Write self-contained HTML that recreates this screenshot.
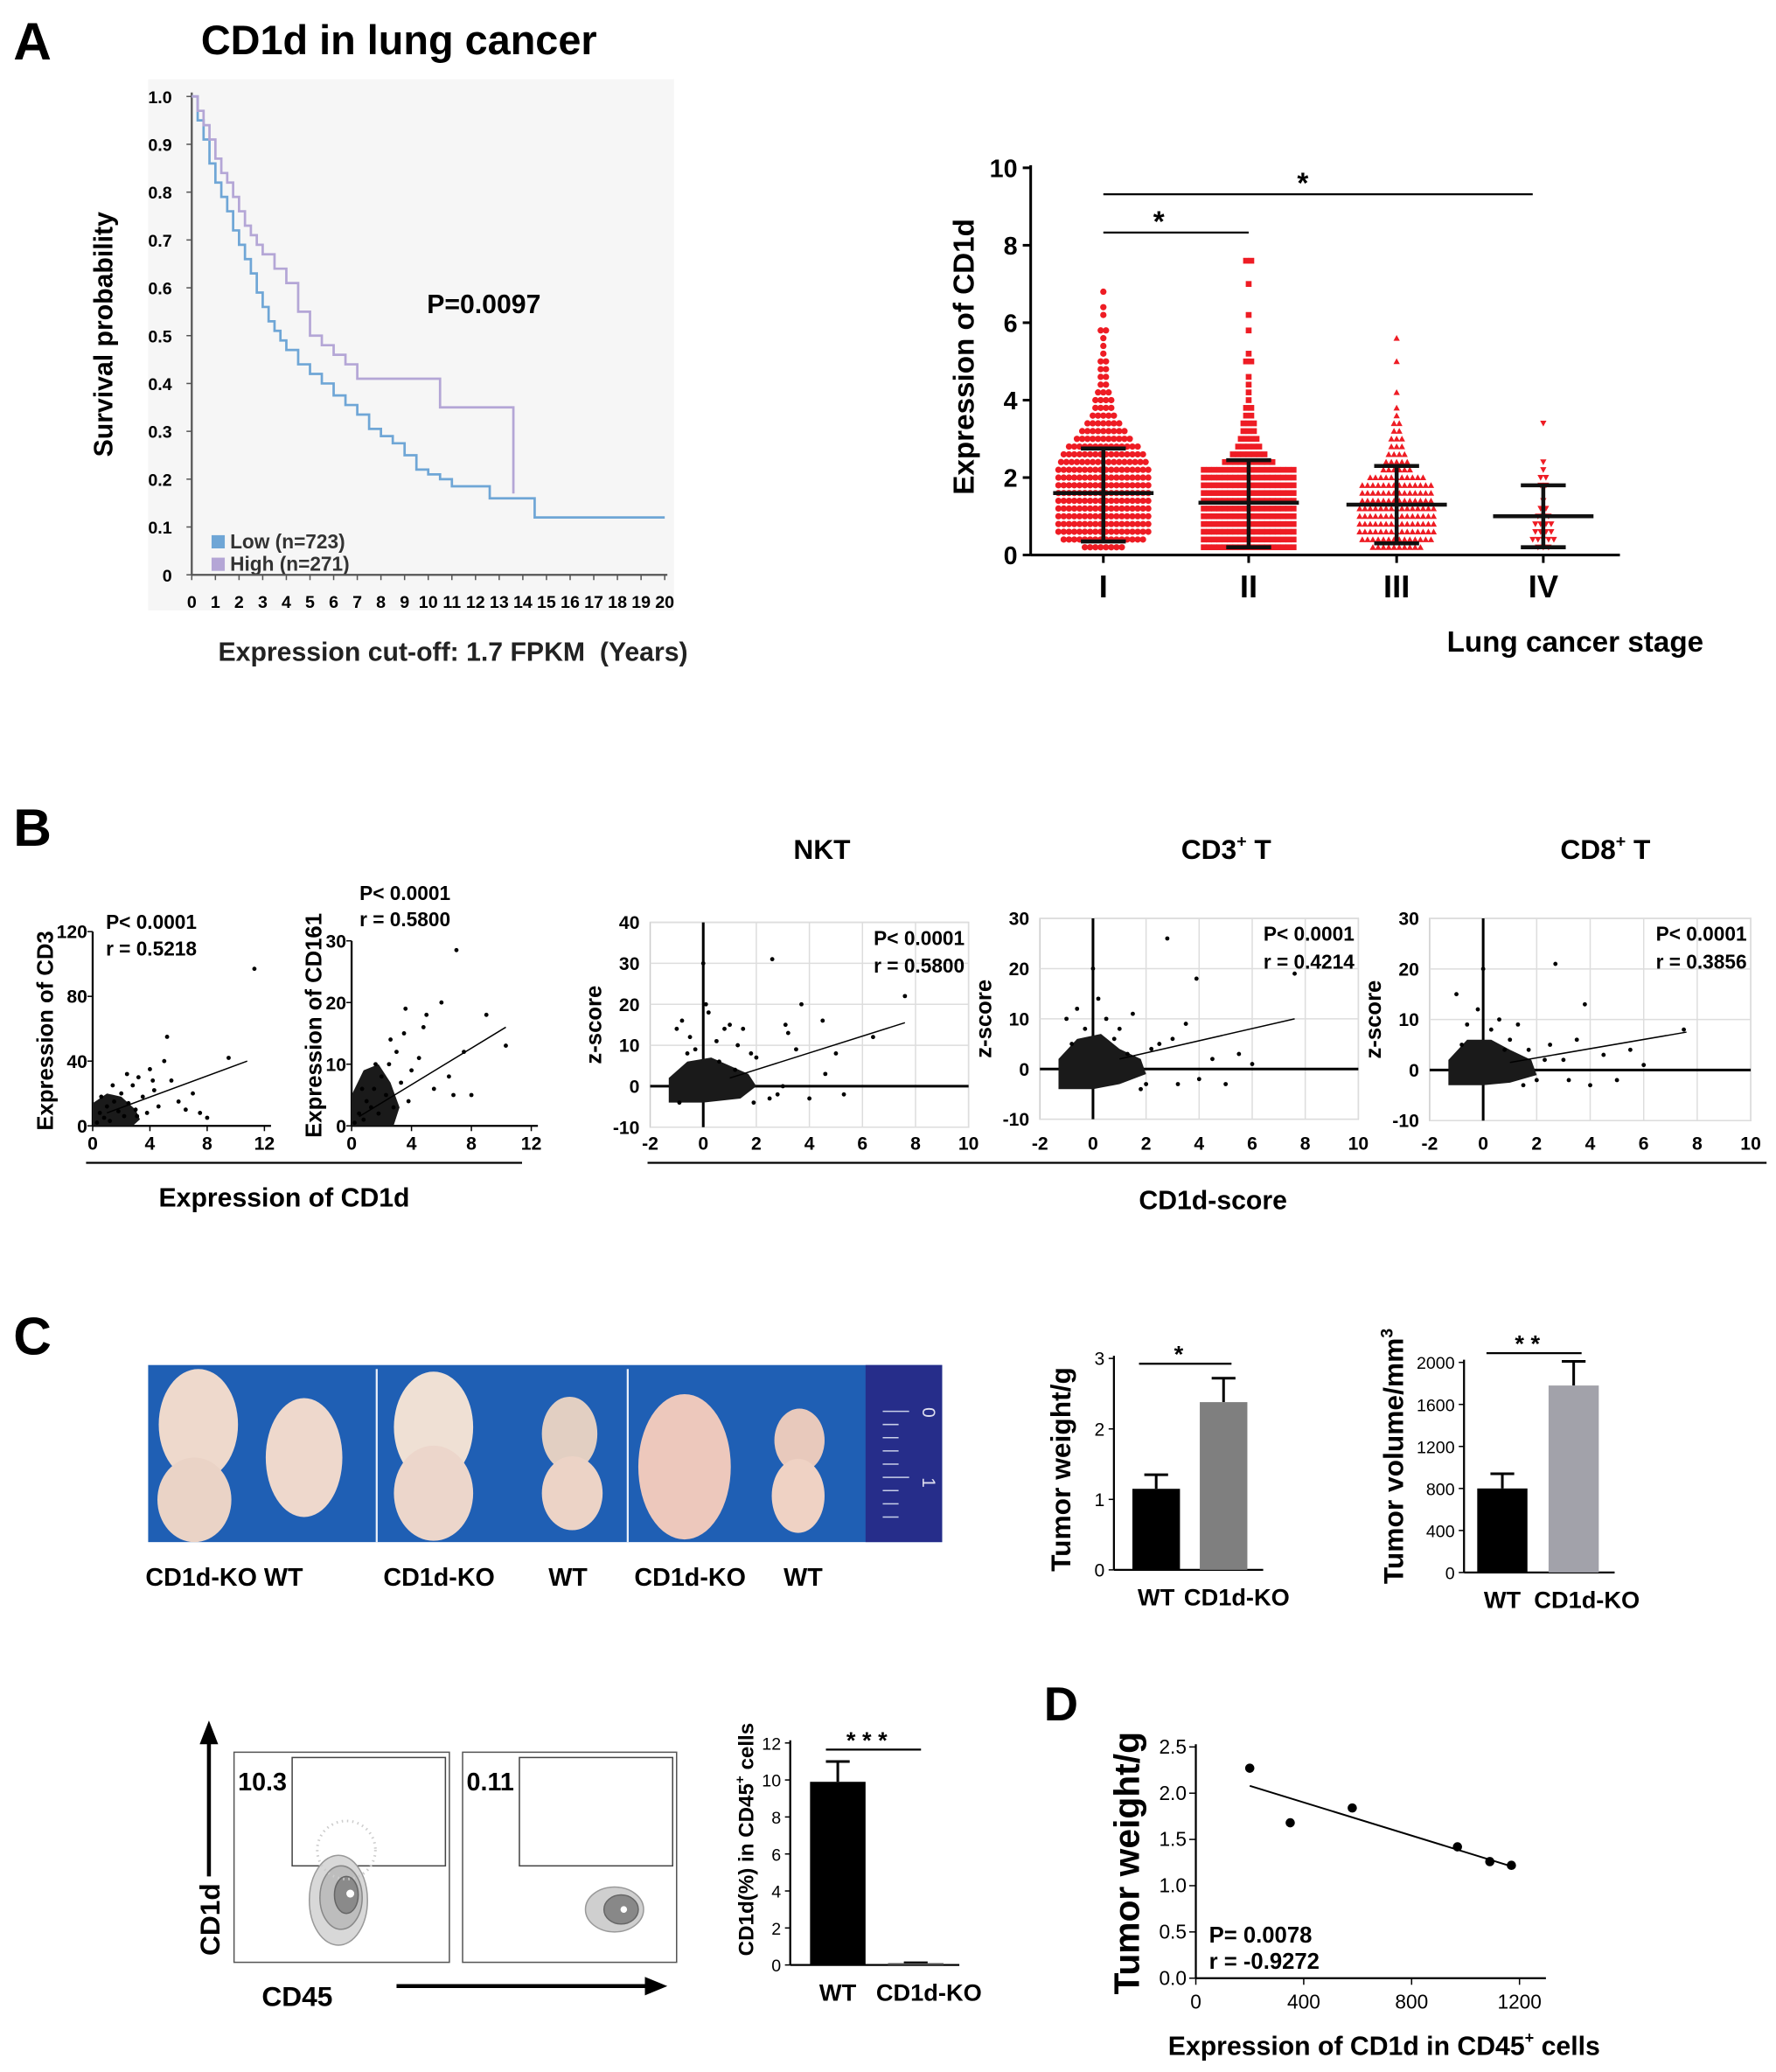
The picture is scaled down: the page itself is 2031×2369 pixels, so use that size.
<!DOCTYPE html>
<html><head><meta charset="utf-8"><style>
html,body{margin:0;padding:0;background:#fff;}
svg{display:block;font-family:"Liberation Sans",Arial,sans-serif;}
.b{font-weight:bold;}
</style></head><body>
<svg id="fig" xmlns="http://www.w3.org/2000/svg" width="2031" height="2369" viewBox="0 0 1344 1568">
<rect x="0" y="0" width="1344" height="1568" fill="#fff"/>
<g id="static" fill="#000">
<text x="10" y="45" font-size="40" class="b">A</text>
<text x="152" y="41" font-size="31" class="b">CD1d in lung cancer</text>
<rect x="112" y="60" width="398" height="402" fill="#f6f6f6"/>
<text transform="translate(85,253) rotate(-90)" text-anchor="middle" font-size="20" class="b">Survival probability</text>
<text x="323" y="237" font-size="20" class="b">P=0.0097</text>
<rect x="160" y="405" width="10" height="10" fill="#6fa6d6"/>
<text x="174" y="415" font-size="15" class="b" fill="#333">Low (n=723)</text>
<rect x="160" y="422" width="10" height="10" fill="#b4a6d6"/>
<text x="174" y="432" font-size="15" class="b" fill="#333">High (n=271)</text>
<text x="165" y="500" font-size="20" class="b" fill="#222">Expression cut-off: 1.7 FPKM &#160;(Years)</text>

<text transform="translate(737,270) rotate(-90)" text-anchor="middle" font-size="22" class="b">Expression of CD1d</text>
<text x="1095" y="493" font-size="22" class="b">Lung cancer stage</text>

<text x="10" y="640" font-size="40" class="b">B</text>
<text transform="translate(40,780) rotate(-90)" text-anchor="middle" font-size="17" class="b">Expression of CD3</text>
<text x="80" y="703" font-size="15" class="b">P&lt; 0.0001</text>
<text x="80" y="723" font-size="15" class="b">r = 0.5218</text>
<text transform="translate(243,776) rotate(-90)" text-anchor="middle" font-size="17" class="b">Expression of CD161</text>
<text x="272" y="681" font-size="15" class="b">P&lt; 0.0001</text>
<text x="272" y="701" font-size="15" class="b">r = 0.5800</text>
<line x1="65" y1="880" x2="395" y2="880" stroke="#000" stroke-width="1.5"/>
<text x="120" y="913" font-size="20" class="b">Expression of CD1d</text>
<text x="622" y="650" font-size="21" class="b" text-anchor="middle">NKT</text>
<text x="928" y="650" font-size="21" class="b" text-anchor="middle">CD3<tspan font-size="13" dy="-9">+</tspan><tspan dy="9"> T</tspan></text>
<text x="1215" y="650" font-size="21" class="b" text-anchor="middle">CD8<tspan font-size="13" dy="-9">+</tspan><tspan dy="9"> T</tspan></text>
<line x1="490" y1="880" x2="1337" y2="880" stroke="#000" stroke-width="1.5"/>
<text x="918" y="915" font-size="20" class="b" text-anchor="middle">CD1d-score</text>

<text x="10" y="1025" font-size="40" class="b">C</text>
<g>
<rect x="112" y="1033" width="601" height="134" fill="#1f5fb4"/>
<rect x="655" y="1033" width="58" height="134" fill="#262d8a"/>
<line x1="285" y1="1036" x2="285" y2="1167" stroke="#e8eef8" stroke-width="1.5"/>
<line x1="475" y1="1036" x2="475" y2="1167" stroke="#e8eef8" stroke-width="1.5"/>
<ellipse cx="150" cy="1078" rx="30" ry="42" fill="#eed9cc"/><ellipse cx="147" cy="1135" rx="28" ry="32" fill="#ead3c6"/>
<ellipse cx="230" cy="1103" rx="29" ry="45" fill="#eed8cc"/>
<ellipse cx="328" cy="1080" rx="30" ry="42" fill="#efe0d4"/><ellipse cx="328" cy="1130" rx="30" ry="36" fill="#ecd6cb"/>
<ellipse cx="431" cy="1085" rx="21" ry="28" fill="#e2cfc2"/><ellipse cx="433" cy="1130" rx="23" ry="28" fill="#ecd3c6"/>
<ellipse cx="518" cy="1110" rx="35" ry="55" fill="#edc8bc"/>
<ellipse cx="605" cy="1090" rx="19" ry="24" fill="#e8c9bc"/><ellipse cx="604" cy="1132" rx="20" ry="28" fill="#efd2c4"/>
<g stroke="#c8cfe8" stroke-width="1"><line x1="668" y1="1068" x2="688" y2="1068"/><line x1="668" y1="1078" x2="680" y2="1078"/><line x1="668" y1="1088" x2="680" y2="1088"/><line x1="668" y1="1098" x2="680" y2="1098"/><line x1="668" y1="1108" x2="680" y2="1108"/><line x1="668" y1="1118" x2="688" y2="1118"/><line x1="668" y1="1128" x2="680" y2="1128"/><line x1="668" y1="1138" x2="680" y2="1138"/><line x1="668" y1="1148" x2="680" y2="1148"/></g>
<text transform="translate(698,1065) rotate(90)" font-size="14" fill="#dde">0</text>
<text transform="translate(698,1118) rotate(90)" font-size="14" fill="#dde">1</text>
</g>
<g font-size="19" class="b">
<text x="110" y="1200">CD1d-KO WT</text>
<text x="290" y="1200">CD1d-KO</text>
<text x="415" y="1200">WT</text>
<text x="480" y="1200">CD1d-KO</text>
<text x="593" y="1200">WT</text>
</g>
<text transform="translate(810,1112) rotate(-90)" text-anchor="middle" font-size="21" class="b">Tumor weight/g</text>
<text transform="translate(1062,1102) rotate(-90)" text-anchor="middle" font-size="21" class="b">Tumor volume/mm<tspan font-size="13" dy="-8">3</tspan></text>

<g>
<rect x="177" y="1326" width="163" height="159" fill="none" stroke="#555" stroke-width="1"/>
<rect x="221" y="1330" width="116" height="82" fill="none" stroke="#444" stroke-width="1"/>
<ellipse cx="256" cy="1438" rx="22" ry="34" fill="#d8d8d8" stroke="#999"/>
<ellipse cx="258" cy="1436" rx="16" ry="24" fill="#bdbdbd" stroke="#888"/>
<ellipse cx="262" cy="1434" rx="9" ry="14" fill="#8a8a8a" stroke="#666"/>
<circle cx="265" cy="1433" r="3" fill="#fff"/>
<ellipse cx="262" cy="1400" rx="22" ry="22" fill="none" stroke="#ccc" stroke-dasharray="1 3" stroke-width="2"/>
<text x="180" y="1355" font-size="19" class="b">10.3</text>
</g>
<g>
<rect x="350" y="1326" width="162" height="159" fill="none" stroke="#555" stroke-width="1"/>
<rect x="393" y="1330" width="116" height="82" fill="none" stroke="#444" stroke-width="1"/>
<ellipse cx="465" cy="1445" rx="22" ry="17" fill="#cfcfcf" stroke="#999"/>
<ellipse cx="470" cy="1445" rx="13" ry="11" fill="#888" stroke="#666"/>
<circle cx="472" cy="1445" r="2.5" fill="#fff"/>
<text x="353" y="1355" font-size="19" class="b">0.11</text>
</g>
<line x1="158" y1="1420" x2="158" y2="1318" stroke="#000" stroke-width="3"/>
<polygon points="151,1320 165,1320 158,1302" fill="#000"/>
<text transform="translate(166,1480) rotate(-90)" font-size="21" class="b">CD1d</text>
<text x="198" y="1518" font-size="21" class="b">CD45</text>
<line x1="300" y1="1503" x2="490" y2="1503" stroke="#000" stroke-width="3"/>
<polygon points="488,1496 488,1510 505,1503" fill="#000"/>
<text transform="translate(570,1392) rotate(-90)" text-anchor="middle" font-size="16" class="b">CD1d(%) in CD45<tspan font-size="10" dy="-7">+</tspan><tspan dy="7"> cells</tspan></text>

<text x="790" y="1302" font-size="36" class="b">D</text>
<text transform="translate(862,1410) rotate(-90)" text-anchor="middle" font-size="27" class="b">Tumor weight/g</text>
<text x="915" y="1470" font-size="17" class="b">P= 0.0078</text>
<text x="915" y="1490" font-size="17" class="b">r = -0.9272</text>
<text x="884" y="1555" font-size="20" class="b">Expression of CD1d in CD45<tspan font-size="12" dy="-9">+</tspan><tspan dy="9"> cells</tspan></text>
</g>
<g id="dyn"></g>
</svg>
<script>
// ---- KM data (years, survival)
const kmLowT = [0,0.25,0.5,0.75,1,1.25,1.5,1.75,2,2.25,2.5,2.75,3,3.25,3.5,3.75,4,4.5,5,5.5,6,6.5,7,7.5,8,8.5,9,9.5,10,10.5,11,12.5,12.6,14.5,20];
const kmLowS = [1,0.95,0.91,0.86,0.82,0.79,0.76,0.72,0.69,0.66,0.63,0.59,0.56,0.53,0.51,0.49,0.47,0.44,0.42,0.40,0.375,0.355,0.335,0.305,0.29,0.275,0.25,0.22,0.21,0.2,0.185,0.185,0.16,0.12,0.12];
const kmHighT = [0,0.25,0.5,0.75,1,1.25,1.5,1.75,2,2.25,2.5,2.75,3,3.5,4,4.5,5,5.5,6,6.5,7,10.5,13.6];
const kmHighS = [1,0.97,0.94,0.91,0.87,0.84,0.82,0.79,0.76,0.73,0.71,0.69,0.67,0.64,0.61,0.55,0.5,0.48,0.46,0.44,0.41,0.35,0.17];
const kmYTicks = [0,0.1,0.2,0.3,0.4,0.5,0.6,0.7,0.8,0.9,1.0];
const kmXTicks = [0,1,2,3,4,5,6,7,8,9,10,11,12,13,14,15,16,17,18,19,20];
// ---- Stage data
const stageNames = ['I','II','III','IV'];
const stageMean = [1.6,1.35,1.3,1.0];
const stageLow = [0.35,0.2,0.3,0.2];
const stageHigh = [2.75,2.45,2.3,1.8];
const stageBinsI = [8,16,18,18,18,18,18,18,18,18,18,17,16,14,11,9,7,5,4,4,3,2,2,2,2,1,1,1,2,0,1,1,0,1,0,0];
const stageBinsII = [18,18,18,18,18,18,18,18,18,18,18,10,7,5,4,3,3,2,2,1,1,1,1,0,2,1,0,0,1,0,1,0,0,0,1,0,0,2];
const stageBinsIII = [10,14,15,15,15,15,14,14,14,11,6,5,4,3,3,2,2,1,1,0,1,0,0,0,1,0,0,1,0];
const stageBinsIV = [3,5,4,4,3,2,1,0,2,2,1,1,0,0,0,0,1];
// ---- B scatter data
const cd3X = [0.3,0.5,0.8,1,1.2,1.5,1.8,2,2.2,2.5,2.8,3,3.2,3.5,3.8,4,4.3,4.6,5,5.5,6,6.5,7,7.5,8,9.5,11.3,0.6,1.4,2.4,3.1,4.2,5.2];
const cd3Y = [2,8,5,12,3,15,9,20,6,14,25,10,30,18,8,35,22,12,40,28,15,10,20,8,5,42,97,18,25,32,6,28,55];
const cd161X = [0.2,0.5,0.8,1,1.3,1.5,1.8,2,2.3,2.5,2.8,3,3.3,3.5,3.8,4,4.5,5,5.5,6,6.5,7,7.5,8,9,10.3,0.7,1.6,2.6,3.6,6.8,4.8];
const cd161Y = [0.5,2,1,4,3,6,2,8,5,10,3,12,7,15,4,9,11,18,6,20,8,28.5,12,5,18,13,6,10,14,19,5,16];
const nktX = [-1,-0.8,-0.5,-0.3,0,0.2,0.5,0.8,1,1.3,1.5,1.8,2,2.5,2.6,3,3.1,3.5,3.7,4,4.5,4.6,5,5.3,6.4,7.6,-0.9,-0.6,0.1,0.6,1.2,1.9,2.8,3.2];
const nktY = [14,16,12,9,30,18,11,14,15,10,14,8,7,-3,31,0,15,9,20,-3,16,3,8,-2,12,22,-4,8,20,6,4,-4,-2,13];
const cd3tX = [-1,-0.6,-0.3,0,0.2,0.5,1,1.3,1.5,2,2.5,2.8,3,3.5,3.9,4,4.5,5,5.5,7.6,6,0.8,1.8,2.2,3.2,-0.8];
const cd3tY = [10,12,8,20,14,10,8,3,11,-3,5,26,6,9,18,-2,2,-3,3,19,1,6,-4,4,-3,5];
const cd8tX = [-1,-0.6,-0.2,0,0.3,0.6,1,1.3,1.7,2,2.5,2.7,3,3.5,3.8,4,4.5,5,5.5,6,7.5,0.8,1.5,2.3,-0.8,3.2];
const cd8tY = [15,9,12,20,8,10,6,9,4,-2,5,21,2,6,13,-3,3,-2,4,1,8,4,-3,2,5,-2];
// core density hulls [x,y] in data units
const cd3Core = [[0,0],[0,14],[1,20],[2,18],[3,10],[3.3,4],[2.8,0]];
const cd161Core = [[0,0],[0,5],[0.8,9],[1.8,10],[2.6,7],[3.2,3],[2.8,0]];
const nktCore = [[-1.3,-4],[-1.3,2],[-0.6,6],[0.3,7],[1,5],[1.7,3],[2,0],[1.4,-3],[0,-4]];
const cd3tCore = [[-1.3,-4],[-1.3,2],[-0.6,6],[0.3,7],[1,4],[1.8,2],[2,-1],[1,-3],[0,-4]];
const cd8tCore = [[-1.3,-3],[-1.3,2],[-0.6,6],[0.3,6],[1,4],[1.8,2],[2,-1],[1,-2.5],[0,-3]];
// ---- C bars
const barCats = ['WT','CD1d-KO'];
const weightVals = [1.15,2.38];
const weightErr = [0.2,0.34];
const weightTicks = [0,1,2,3];
const volumeVals = [800,1780];
const volumeErr = [140,230];
const volumeTicks = [0,400,800,1200,1600,2000];
const pctVals = [9.9,0.1];
const pctErr = [1.1,0.02];
const pctTicks = [0,2,4,6,8,10,12];
// ---- D
const dX = [200,350,580,970,1090,1170];
const dY = [2.27,1.68,1.84,1.42,1.26,1.22];
const dFitX = [200,1180];
const dFitY = [2.08,1.2];
const dXTicks = [0,400,800,1200];
const dYTicks = [0,0.5,1.0,1.5,2.0,2.5];

const NS='http://www.w3.org/2000/svg';
const dyn=document.getElementById('dyn');
function mk(tag,attrs,parent){const e=document.createElementNS(NS,tag);for(const k in attrs)e.setAttribute(k,attrs[k]);(parent||dyn).appendChild(e);return e;}
function lin(d0,d1,r0,r1){return v=>r0+(v-d0)*(r1-r0)/(d1-d0);}
function txt(x,y,s,size,anchor,bold,name){const t=mk('text',{x:x,y:y,'font-size':size,'text-anchor':anchor||'start','font-weight':bold?'bold':'normal'});t.textContent=s;


return t;}

// ===== KM
(function(){
const x=lin(0,20,145,503), y=lin(0,1,435,73);
mk('line',{x1:145,y1:435,x2:505,y2:435,stroke:'#555','stroke-width':1.5});
mk('line',{x1:145,y1:435,x2:145,y2:70,stroke:'#555','stroke-width':1.5});
kmYTicks.forEach(v=>{mk('line',{x1:141,y1:y(v),x2:145,y2:y(v),stroke:'#555'});txt(130,y(v)+5,v===0?'0':v.toFixed(1),13,'end',true,'km-y-tick');});
kmXTicks.forEach(v=>{mk('line',{x1:x(v),y1:435,x2:x(v),y2:439,stroke:'#555'});txt(x(v),460,String(v),13,'middle',true,'km-x-tick');});
function step(T,S,col,name){let d='M'+x(T[0])+','+y(S[0]);for(let i=1;i<T.length;i++){d+=' L'+x(T[i])+','+y(S[i-1])+' L'+x(T[i])+','+y(S[i]);}
const p=mk('path',{d:d,fill:'none',stroke:col,'stroke-width':1.8});


}
step(kmLowT,kmLowS,'#6fa6d6','km-curve-low');
step(kmHighT,kmHighS,'#b4a6d6','km-curve-high');
})();

// ===== Stage scatter
(function(){
const y=lin(0,10,420,127); const cx=[835,945,1057,1168];
mk('line',{x1:780,y1:420,x2:1226,y2:420,stroke:'#000','stroke-width':2});
mk('line',{x1:780,y1:420,x2:780,y2:125,stroke:'#000','stroke-width':2});
[0,2,4,6,8,10].forEach(v=>{mk('line',{x1:774,y1:y(v),x2:780,y2:y(v),stroke:'#000','stroke-width':2});txt(770,y(v)+7,String(v),19,'end',true,'stage-y-tick');});
stageNames.forEach((s,i)=>{mk('line',{x1:cx[i],y1:420,x2:cx[i],y2:426,stroke:'#000','stroke-width':2});txt(cx[i],452,s,24,'middle',true,'stage-x-tick');});
const bins=[stageBinsI,stageBinsII,stageBinsIII,stageBinsIV];
bins.forEach((b,g)=>{b.forEach((n,k)=>{const v=0.2+k*0.2;for(let j=0;j<n;j++){const off=(j-(n-1)/2)*4;const px=cx[g]+off,py=y(v);let m;
if(g===0)m=mk('circle',{cx:px,cy:py,r:2.4,fill:'#ee1c24'});
else if(g===1)m=mk('rect',{x:px-2.2,y:py-2.2,width:4.4,height:4.4,fill:'#ee1c24'});
else if(g===2)m=mk('polygon',{points:(px-2.4)+','+(py+2)+' '+(px+2.4)+','+(py+2)+' '+px+','+(py-2.4),fill:'#ee1c24'});
else m=mk('polygon',{points:(px-2.4)+','+(py-2)+' '+(px+2.4)+','+(py-2)+' '+px+','+(py+2.4),fill:'#ee1c24'});


}});});
stageNames.forEach((s,i)=>{
const c=cx[i];
mk('line',{x1:c-38,y1:y(stageMean[i]),x2:c+38,y2:y(stageMean[i]),stroke:'#111','stroke-width':3});
mk('line',{x1:c,y1:y(stageLow[i]),x2:c,y2:y(stageHigh[i]),stroke:'#111','stroke-width':3});
mk('line',{x1:c-17,y1:y(stageLow[i]),x2:c+17,y2:y(stageLow[i]),stroke:'#111','stroke-width':3});
const e=mk('line',{x1:c-17,y1:y(stageHigh[i]),x2:c+17,y2:y(stageHigh[i]),stroke:'#111','stroke-width':3});


});
mk('line',{x1:cx[0],y1:176,x2:cx[1],y2:176,stroke:'#000','stroke-width':1.5});
txt(877,175,'*',22,'middle',true,'sig-star-i-ii');
mk('line',{x1:cx[0],y1:147,x2:1160,y2:147,stroke:'#000','stroke-width':1.5});
txt(986,146,'*',22,'middle',true,'sig-star-i-iv');
})();

// ===== small scatters
function smallScatter(X,Y,core,ox,x1px,xmax,yTop,ymax,yticks,fit,name){
const x=lin(0,xmax,ox,x1px), y=lin(0,ymax,852,yTop);
mk('line',{x1:ox,y1:852,x2:x1px+5,y2:852,stroke:'#000','stroke-width':1.5});
mk('line',{x1:ox,y1:852,x2:ox,y2:yTop,stroke:'#000','stroke-width':1.5});
yticks.forEach(v=>{mk('line',{x1:ox-4,y1:y(v),x2:ox,y2:y(v),stroke:'#000'});txt(ox-4,y(v)+5,String(v),14,'end',true,name+'-y-tick');});
[0,4,8,12].forEach(v=>{mk('line',{x1:x(v),y1:852,x2:x(v),y2:856,stroke:'#000'});txt(x(v),870,String(v),14,'middle',true,name+'-x-tick');});
mk('polygon',{points:core.map(p=>x(p[0])+','+y(p[1])).join(' '),fill:'#1a1a1a'});
X.forEach((v,i)=>{const c=mk('circle',{cx:x(v),cy:y(Y[i]),r:1.6,fill:'#000'});


});
mk('line',{x1:x(fit[0]),y1:y(fit[1]),x2:x(fit[2]),y2:y(fit[3]),stroke:'#000','stroke-width':1});
}
smallScatter(cd3X,cd3Y,cd3Core,70,200,12,705,120,[0,40,80,120],[1,8,10.8,40],'cd3');
smallScatter(cd161X,cd161Y,cd161Core,266,402,12,712,30,[0,10,20,30],[0.5,1.5,10.3,16],'cd161');

// ===== z-score plots
function zPlot(X,Y,core,x0,x1,yT,yB,ymax,tickStep,fit,stat,name){
const x=lin(-2,10,x0,x1), y=lin(-10,ymax,yB,yT);
mk('rect',{x:x0,y:yT,width:x1-x0,height:yB-yT,fill:'none',stroke:'#ccc'});
for(let v=0;v<=10;v+=2){mk('line',{x1:x(v),y1:yT,x2:x(v),y2:yB,stroke:'#ddd'});}
for(let v=-10;v<=ymax;v+=tickStep){mk('line',{x1:x0,y1:y(v),x2:x1,y2:y(v),stroke:'#ddd'});txt(x0-8,y(v)+5,String(v),14,'end',true,name+'-y-tick');}
for(let v=-2;v<=10;v+=2){txt(x(v),870,String(v),14,'middle',true,name+'-x-tick');}
mk('line',{x1:x0,y1:y(0),x2:x1,y2:y(0),stroke:'#000','stroke-width':2});
mk('line',{x1:x(0),y1:yT,x2:x(0),y2:yB,stroke:'#000','stroke-width':2});
mk('polygon',{points:core.map(p=>x(p[0])+','+y(p[1])).join(' '),fill:'#1a1a1a'});
X.forEach((v,i)=>{const c=mk('circle',{cx:x(v),cy:y(Y[i]),r:1.6,fill:'#000'});


});
mk('line',{x1:x(fit[0]),y1:y(fit[1]),x2:x(fit[2]),y2:y(fit[3]),stroke:'#000','stroke-width':1});
const t=mk('text',{transform:'translate('+(x0-37)+','+((yT+yB)/2)+') rotate(-90)','text-anchor':'middle','font-size':17,'font-weight':'bold'});t.textContent='z-score';


txt(x1-3,yT+17,'P< 0.0001',15,'end',true,name+'-p-value');
txt(x1-3,yT+38,'r = '+stat,15,'end',true,name+'-r-value');
}
zPlot(nktX,nktY,nktCore,492,733,698,853,40,10,[1,2,7.6,15.5],'0.5800','nkt');
zPlot(cd3tX,cd3tY,cd3tCore,787,1028,695,847,30,10,[1,2,7.6,10],'0.4214','cd3t');
zPlot(cd8tX,cd8tY,cd8tCore,1082,1325,695,848,30,10,[1,1.5,7.6,7.5],'0.3856','cd8t');

// ===== bar charts
function barChart(vals,errs,ticks,ax,y0,yT,max,bx,bw,cols,sig,name,tfs){
const y=lin(0,max,y0,yT);
mk('line',{x1:ax,y1:y0,x2:bx[1]+bw+12,y2:y0,stroke:'#000','stroke-width':1.5});
mk('line',{x1:ax,y1:y0,x2:ax,y2:y(ticks[ticks.length-1])-2,stroke:'#000','stroke-width':1.5});
ticks.forEach(v=>{mk('line',{x1:ax-4,y1:y(v),x2:ax,y2:y(v),stroke:'#000'});txt(ax-7,y(v)+5,String(v),tfs,'end',false,name+'-y-tick');});
vals.forEach((v,i)=>{
mk('line',{x1:bx[i]+bw/2,y1:y(v),x2:bx[i]+bw/2,y2:y(v+errs[i]),stroke:'#000','stroke-width':2});
mk('line',{x1:bx[i]+bw/2-9,y1:y(v+errs[i]),x2:bx[i]+bw/2+9,y2:y(v+errs[i]),stroke:'#000','stroke-width':2});
const r=mk('rect',{x:bx[i],y:y(v),width:bw,height:y0-y(v),fill:cols[i]});


txt(bx[i]+bw/2+(i?10:0),y0+27,barCats[i],18,'middle',true,name+'-x-label');
});
mk('line',{x1:sig[0],y1:sig[2],x2:sig[1],y2:sig[2],stroke:'#000','stroke-width':1.5});
txt((sig[0]+sig[1])/2-5,sig[2]-1,sig[3],18,'middle',true,name+'-sig');
}
barChart(weightVals,weightErr,weightTicks,843,1188,1028,3,[857,908],36,['#000','#7f7f7f'],[862,932,1032,'*'],'weight',14);
barChart(volumeVals,volumeErr,volumeTicks,1108,1190,1031,2000,[1118,1172],38,['#000','#a2a2aa'],[1125,1197,1024,'* *'],'volume',13);
barChart(pctVals,pctErr,pctTicks,598,1487,1319,12,[613,672],42,['#000','#555'],[625,697,1324,'* * *'],'cd1d-pct',13);

// ===== D
(function(){
const x=lin(0,1200,905,1150), y=lin(0,2.5,1497,1322);
mk('line',{x1:905,y1:1497,x2:1170,y2:1497,stroke:'#000','stroke-width':1.5});
mk('line',{x1:905,y1:1497,x2:905,y2:1320,stroke:'#000','stroke-width':1.5});
dXTicks.forEach(v=>{mk('line',{x1:x(v),y1:1497,x2:x(v),y2:1502,stroke:'#000'});txt(x(v),1520,String(v),15,'middle',false,'d-x-tick');});
dYTicks.forEach(v=>{mk('line',{x1:900,y1:y(v),x2:905,y2:y(v),stroke:'#000'});txt(898,y(v)+5,v.toFixed(1),15,'end',false,'d-y-tick');});
mk('line',{x1:x(dFitX[0]),y1:y(dFitY[0]),x2:x(dFitX[1]),y2:y(dFitY[1]),stroke:'#000','stroke-width':1.3});
dX.forEach((v,i)=>{const c=mk('circle',{cx:x(v),cy:y(dY[i]),r:3.5,fill:'#000'});


});
})();
</script>
</body></html>
